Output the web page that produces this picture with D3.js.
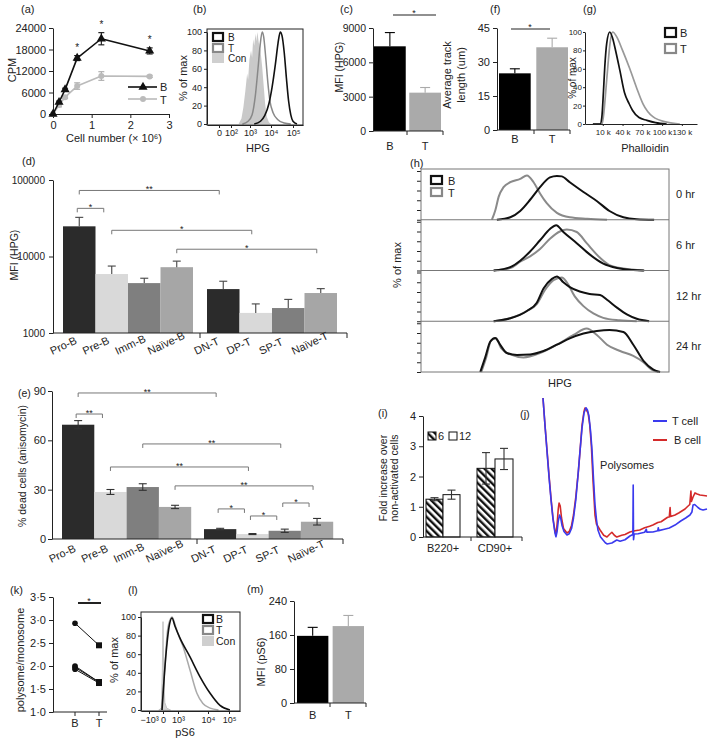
<!DOCTYPE html>
<html><head><meta charset="utf-8">
<script src="https://cdn.jsdelivr.net/npm/d3@7/dist/d3.min.js"></script>
<style>html,body{margin:0;padding:0;background:#fff}svg{display:block}</style>
</head><body>
<svg id="fig" width="709" height="739"></svg>
<script>
// ================= DATA =================
// (a)
const aCells=[0,0.156,0.3125,0.625,1.25,2.5];
const aB=[0,3300,6800,15600,21000,17600];
const aBerr=[0,300,400,700,1700,850];
const aT=[0,2500,4700,7800,10600,10500];
const aTerr=[0,500,400,900,1200,300];
const aStarAt=[3,4,5];
const aXTicks=[0,1,2,3];
const aYTicks=[0,6000,12000,18000,24000];
// (b)  x in log10 units (1 = "0")
const bTickVals=[1,2,3,4,5];
const bTickLabels=["0","10²","10³","10⁴","10⁵"];
const pctTicks=[0,20,40,60,80,100];
const bCon=[[2.4,0],[2.55,6],[2.65,18],[2.75,35],[2.85,55],[2.9,48],[2.97,70],[3.05,80],[3.1,72],[3.15,92],[3.2,85],[3.26,98],[3.3,90],[3.35,100],[3.42,88],[3.5,80],[3.58,62],[3.65,42],[3.72,22],[3.8,8],[3.9,2],[4.0,0]];
const bT=[[2.6,0],[2.9,3],[3.1,10],[3.25,30],[3.38,60],[3.48,85],[3.58,100],[3.65,95],[3.75,72],[3.85,45],[3.95,25],[4.1,12],[4.3,5],[4.6,1],[4.9,0]];
const bB=[[3.2,0],[3.5,3],[3.7,9],[3.9,22],[4.05,40],[4.2,65],[4.32,88],[4.42,100],[4.5,96],[4.6,78],[4.7,50],[4.8,25],[4.9,10],[5.0,3],[5.2,0]];
// (c)
const cCats=["B","T"];
const cVals=[7400,3350];
const cErr=[1200,450];
const cYTicks=[0,3000,6000,9000];
// (f)
const fVals=[25,36.5];
const fErr=[2,4];
const fYTicks=[0,15,30,45];
// (g)  x in thousands
const gXTicks=[10,40,70,100,130];
const gB=[[-5,0],[6,0],[8.5,7],[11,35],[13,62],[16,88],[20.6,100],[25,93],[30,78],[36,58],[43,34],[50,22],[55,15],[65,7],[77,4],[90,1.5],[107,0]];
const gT=[[-5,0],[9,0],[12,15],[15,40],[17.6,62],[21,88],[25,100],[31,95],[40,80],[51,60],[61,40],[71,22],[86,8],[107,2],[127,0]];
// (d) / (e)
const stages=["Pro-B","Pre-B","Imm-B","Naïve-B","DN-T","DP-T","SP-T","Naïve-T"];
const stageFill=["#2b2b2b","#d9d9d9","#7f7f7f","#a6a6a6","#2b2b2b","#d9d9d9","#7f7f7f","#a6a6a6"];
const dVals=[24800,5900,4490,7250,3750,1830,2120,3330];
const dErr=[7700,1600,710,1450,1000,570,630,470];
const dYTicks=[1000,10000,100000];
const dBrackets=[["Pro-B","DN-T","**",73000],["Pro-B","Pre-B","*",42600],["Pre-B","DP-T","*",22000],["Naïve-B","Naïve-T","*",12450]];
const eVals=[69.5,28.6,31.6,19.5,6,3,5,10.5];
const eErr=[2.5,1.5,2,1,0.5,0.3,1,2];
const eYTicks=[0,30,60,90];
const eBrackets=[["Pro-B","DN-T","**",88.8],["Pro-B","Pre-B","**",76],["Imm-B","SP-T","**",57.8],["Pre-B","DP-T","**",43.8],["Naïve-B","Naïve-T","**",32.3],["DN-T","DP-T","*",18.3],["DP-T","SP-T","*",14],["SP-T","Naïve-T","*",21.9]];
// (h)  x in % of HPG axis width, y in % of max
const hTimes=["0 hr","6 hr","12 hr","24 hr"];
const h0B=[[30.6,0],[36,5],[40,18],[44,41],[48,67],[52,87],[54.8,90],[56.8,89],[60,77],[65.5,57],[71,38],[76,18],[81.6,5],[87,1],[94,0]];
const h0T=[[28.6,0],[30,20],[31.3,47],[33.3,67],[36,77],[40,84],[42.7,91],[45.4,77],[48,54],[50.7,34],[54.8,14],[60,5],[67,2],[75,0]];
const h6B=[[29.3,0],[36,7],[40,20],[44,39],[48,62],[52,85],[54.5,93],[57.4,79],[62.8,56],[68,33],[73.5,14],[79,5],[85.6,1],[90,0]];
const h6T=[[29.3,0],[36,5],[40,18],[44,29],[48,44],[52,65],[56,80],[58.8,84],[62.8,79],[66.8,56],[72.2,26],[76,11],[81.6,4],[89.7,0]];
const h12B=[[29.3,0],[36,6],[42.7,21],[46.7,38],[49.4,67],[52.8,87],[54.8,92],[57.4,80],[60,70],[64,61],[68,56],[72.2,54],[75,44],[79,28],[83,14],[87,5],[92,0]];
const h12T=[[29.3,0],[36,6],[42.7,21],[46.7,35],[50,64],[53.4,84],[56.8,90],[58.8,80],[62,51],[65.5,31],[69.5,16],[73.5,7],[80,2],[87,0]];
const h24B=[[23.9,0],[25.9,30],[27.9,62],[29.9,70],[31.9,56],[34.6,39],[38.7,35],[44,36],[49.4,43],[54.8,56],[60,69],[65.5,79],[70.9,84],[76,86],[81.6,82],[85.6,56],[89.7,23],[93.7,5],[96.4,0]];
const h24T=[[24.3,0],[26.3,30],[28.2,64],[30.3,69],[32.3,49],[36,36],[41.3,30],[48,39],[54.8,56],[61.5,76],[66.8,89],[70.9,76],[75,56],[80.3,43],[85.6,33],[89.7,20],[93,5],[95.7,0]];
const hB=[h0B,h6B,h12B,h24B];
const hT=[h0T,h6T,h12T,h24T];
// (i)
const iGroups=["B220+","CD90+"];
const i6=[1.25,2.27], i6Err=[0.05,0.52];
const i12=[1.4,2.58], i12Err=[0.15,0.35];
const iYTicks=[0,1,2,3,4];
// (j)  x: sedimentation position (0-100), y: absorbance (a.u.)
const jT=[[0,100],[1.2,82],[2.4,65],[3.7,47],[4.9,32],[6.1,19],[7.3,10],[7.9,7.5],[8.6,11],[9.3,18],[10.1,22],[10.8,20],[11.6,15],[12.8,11],[14.6,8.7],[16,9.5],[17.4,13],[18.6,20],[20,32],[21.3,48],[22.6,65],[23.8,80],[25,90],[26.2,93.5],[27.1,92],[28,88],[29,78],[29.9,65],[30.8,46],[31.7,29],[32.6,19],[33.5,12],[35,7.5],[36.6,5.3],[38,3.5],[39,2.7],[42,3.3],[45,5.3],[47,4.5],[50,5.5],[53,8],[54.8,9],[55,42],[55.2,5.5],[55.6,9.3],[58,9.5],[62,10.5],[63,12.5],[63.3,10.6],[67,10.7],[70,11.5],[70.3,13.5],[70.6,11.6],[74,12.5],[77,13.3],[80.5,15.3],[84,18],[87,20],[89.6,22],[90.8,24],[91.5,28.7],[92.5,29],[94.5,27],[96,25.8],[97.6,25.3],[100,26]];
const jB=[[0,100],[1.2,82],[2.4,66],[3.7,48],[4.9,33],[6.1,20],[7.3,11],[7.9,9],[8.6,16],[9.3,26],[9.8,30],[10.5,28],[11.3,20],[12.5,13],[14.6,10],[16,11],[17.4,15],[18.6,22],[20,34],[21,45],[21.2,47],[21.5,50],[22.6,65],[23.8,82],[25,91],[25.6,93.3],[26.5,92],[27.5,90],[28.5,82],[29.5,68],[30.5,45],[31.7,22],[32.6,16],[34.8,12],[37,8.5],[39,7.3],[40.5,9],[42,10.5],[43.5,8.5],[45,7.3],[48,8.5],[50,9],[53,10.7],[56,11.5],[59,12],[62,13.5],[65,14.5],[67,15.3],[70,17],[72,17.5],[74,19],[76,20.5],[77,20.7],[77.5,27],[77.8,21],[80.5,22],[83,23.5],[86.6,26],[88,27.5],[89.5,29],[90.2,38],[90.5,31],[91.5,34],[92.7,36.7],[94,36],[95.7,35.3],[98,35],[100,34.7]];
// (k)
const kB=[2.93,2.0,1.97,1.93];
const kT=[2.45,1.65,1.65,1.63];
const kYTicks=[1,1.5,2,2.5,3,3.5];
// (l) x in display units: -1=-10^3, 0=0, 1=10^3, 2=10^4, 3=10^5
const lTickVals=[-1,0,1,2,3];
const lTickLabels=["−10³","0","10³","10⁴","10⁵"];
const lCon=[[-0.3,0],[-0.12,2],[-0.05,40],[0,95],[0.05,40],[0.12,8],[0.25,2],[0.5,0]];
const lT=[[-0.1,0],[0.1,40],[0.3,85],[0.5,98],[0.6,100],[0.8,92],[1.0,82],[1.17,68],[1.4,43],[1.63,18],[1.83,7],[2.1,2],[2.5,0]];
const lB=[[-0.07,0],[0.1,40],[0.27,72],[0.4,89],[0.6,99],[0.8,90],[1.07,77],[1.4,57],[1.73,36],[2.1,18],[2.57,5],[3.05,0]];
// (m)
const mVals=[158,181];
const mErr=[20,25];
const mYTicks=[0,80,160,240];

// ================= HELPERS =================
const svg=d3.select("#fig");
const FONT="'Liberation Sans', Arial, Helvetica, sans-serif";
const INK="#222";
function T(x,y,s,o={}){
  const t=svg.append("text").attr("x",x).attr("y",y).attr("font-family",FONT)
    .attr("font-size",o.fs||11).attr("fill",o.fill||INK).attr("text-anchor",o.anchor||"start").text(s);
  if(o.rot!=null) t.attr("transform",`rotate(${o.rot},${x},${y})`);
  return t;
}
function L(x1,y1,x2,y2,o={}){return svg.append("line").attr("x1",x1).attr("y1",y1).attr("x2",x2).attr("y2",y2).attr("stroke",o.stroke||INK).attr("stroke-width",o.w||1);}
function fixAxis(g,fs){g.attr("font-family",FONT).attr("font-size",fs);g.select(".domain").attr("stroke",INK);g.selectAll(".tick line").attr("stroke",INK);g.selectAll(".tick text").attr("fill",INK);return g;}
function axL(scale,x,vals,fmt,fs,size,pad){return fixAxis(svg.append("g").attr("transform",`translate(${x},0)`).call(d3.axisLeft(scale).tickValues(vals).tickFormat(fmt).tickSize(size==null?4:size).tickSizeOuter(0).tickPadding(pad==null?3:pad)),fs);}
function axB(scale,y,vals,fmt,fs,size,pad){return fixAxis(svg.append("g").attr("transform",`translate(0,${y})`).call(d3.axisBottom(scale).tickValues(vals).tickFormat(fmt).tickSize(size==null?4:size).tickSizeOuter(0).tickPadding(pad==null?3:pad)),fs);}
function P(d,stroke,w,fill){return svg.append("path").attr("d",d).attr("fill",fill||"none").attr("stroke",stroke).attr("stroke-width",w).attr("stroke-linejoin","round");}
function pl(sx,sy,curve){return d3.line().x(d=>sx(d[0])).y(d=>sy(d[1])).curve(curve||d3.curveMonotoneX);}
function errUp(x,y0,y1,cap,col){L(x,y0,x,y1,{stroke:col||INK,w:1.1});L(x-cap/2,y1,x+cap/2,y1,{stroke:col||INK,w:1.1});}
function errBoth(x,ylo,yhi,cap,col){L(x,ylo,x,yhi,{stroke:col||INK,w:1.1});L(x-cap/2,yhi,x+cap/2,yhi,{stroke:col||INK,w:1.1});L(x-cap/2,ylo,x+cap/2,ylo,{stroke:col||INK,w:1.1});}
function star(x,yc,s,fs){T(x,yc+(fs||10)*0.55,s,{fs:fs||10,anchor:"middle",fill:"#222"});}
function legBox(x,y,w,h,kind){
  const r=svg.append("rect").attr("x",x).attr("y",y).attr("width",w).attr("height",h);
  if(kind==="B") r.attr("fill","none").attr("stroke","#111").attr("stroke-width",2.2);
  else if(kind==="T") r.attr("fill","none").attr("stroke","#888").attr("stroke-width",2.2);
  else r.attr("fill","#cfcfcf").attr("stroke","none");
}
const defs=svg.append("defs");
const pat=defs.append("pattern").attr("id","hatch").attr("patternUnits","userSpaceOnUse").attr("width",5).attr("height",5).attr("patternTransform","rotate(-45)");
pat.append("rect").attr("width",5).attr("height",5).attr("fill","#fff");
pat.append("rect").attr("width",2.4).attr("height",5).attr("fill","#111");

// ================= (a) =================
T(21,13,"(a)");
const xA=d3.scaleLinear().domain([0,3]).range([53,169]);
const yA=d3.scaleLinear().domain([0,24000]).range([114,28]);
axB(xA,114,aXTicks,d3.format("d"),11);
axL(yA,53,aYTicks,d=>d,11);
T(114,142,"Cell number (× 10⁶)",{anchor:"middle"});
T(16,70,"CPM",{rot:-90,anchor:"middle"});
P(d3.line().x((d,i)=>xA(aCells[i])).y(d=>yA(d))(aT),"#bbb",1.6);
aCells.forEach((c,i)=>{ if(aTerr[i]>0) errBoth(xA(c),yA(aT[i]-aTerr[i]),yA(aT[i]+aTerr[i]),6,"#aaa"); });
svg.selectAll(".aT").data(aT).enter().append("circle").attr("cx",(d,i)=>xA(aCells[i])).attr("cy",d=>yA(d)).attr("r",3).attr("fill","#bbb");
P(d3.line().x((d,i)=>xA(aCells[i])).y(d=>yA(d))(aB),"#111",1.6);
aCells.forEach((c,i)=>{ if(aBerr[i]>0) errBoth(xA(c),yA(aB[i]-aBerr[i]),yA(aB[i]+aBerr[i]),6,"#111"); });
svg.selectAll(".aB").data(aB).enter().append("path").attr("d",d3.symbol(d3.symbolTriangle,36)).attr("transform",(d,i)=>`translate(${xA(aCells[i])},${yA(d)})`).attr("fill","#111");
aStarAt.forEach(i=>star(xA(aCells[i]),yA(aB[i]+aBerr[i])-10,"*",10));
L(128,87,157,87,{stroke:"#111",w:1.6});
svg.append("path").attr("d",d3.symbol(d3.symbolTriangle,36)).attr("transform","translate(143,87)").attr("fill","#111");
T(160,91,"B",{fs:11});
L(128,99,157,99,{stroke:"#bbb",w:1.6});
svg.append("circle").attr("cx",143).attr("cy",99).attr("r",3).attr("fill","#bbb");
T(160,104,"T",{fs:11});

// ================= (b) =================
T(193,13,"(b)");
const xBs=d3.scaleLinear().domain([0.3,1,2,3,4,5,5.5]).range([207,219,231,250,271,293,303]);
const yBs=d3.scaleLinear().domain([0,100]).range([124,32]);
P(d3.area().x(d=>xBs(d[0])).y0(yBs(0)).y1(d=>yBs(d[1])).curve(d3.curveLinear)(bCon),"none",0,"#c9c9c9");
P(pl(xBs,yBs)(bT),"#888",1.5);
P(pl(xBs,yBs)(bB),"#111",1.6);
svg.append("rect").attr("x",207).attr("y",29).attr("width",96).attr("height",96).attr("fill","none").attr("stroke",INK).attr("stroke-width",1);
axL(yBs,207,pctTicks,d=>d,9,3,2);
axB(xBs,125,bTickVals,(d,i)=>bTickLabels[i],9,3,2);
T(187,78,"% of max",{rot:-90,anchor:"middle",fs:11});
T(258,152,"HPG",{anchor:"middle",fs:11});
legBox(213,33,10,8,"B");T(228,41,"B",{fs:10});
legBox(213,44,10,8,"T");T(228,52,"T",{fs:10});
legBox(212,53,12,10,"C");T(228,62,"Con",{fs:10});

// ================= (c) =================
T(340,13,"(c)");
const yC=d3.scaleLinear().domain([0,9000]).range([131,28]);
const xC=d3.scaleBand().domain(cCats).range([374,441]).paddingInner(0.1);
cCats.forEach((c,i)=>{
  svg.append("rect").attr("x",xC(c)).attr("y",yC(cVals[i])).attr("width",xC.bandwidth()).attr("height",yC(0)-yC(cVals[i])).attr("fill",i?"#aaa":"#000");
  errUp(xC(c)+xC.bandwidth()/2,yC(cVals[i]),yC(cVals[i]+cErr[i]),10,i?"#aaa":"#000");
  T(xC(c)+xC.bandwidth()/2,150,c,{anchor:"middle"});
});
axL(yC,373,cYTicks,d=>d,10.5);
L(373,131,443,131);L(407,131,407,135);L(443,131,443,135);
L(393,15,436,15,{w:1.1});star(414,11,"*",9);
T(343,67,"MFI (HPG)",{rot:-90,anchor:"middle",fs:10.5});

// ================= (f) =================
T(490,13,"(f)");
const yF=d3.scaleLinear().domain([0,45]).range([130,28]);
const xF=d3.scaleBand().domain(cCats).range([499,568]).paddingInner(0.15);
cCats.forEach((c,i)=>{
  svg.append("rect").attr("x",xF(c)).attr("y",yF(fVals[i])).attr("width",xF.bandwidth()).attr("height",yF(0)-yF(fVals[i])).attr("fill",i?"#aaa":"#000");
  errUp(xF(c)+xF.bandwidth()/2,yF(fVals[i]),yF(fVals[i]+fErr[i]),10,i?"#aaa":"#000");
  T(xF(c)+xF.bandwidth()/2,143,c,{anchor:"middle"});
});
axL(yF,497,fYTicks,d=>d,11);
L(497,130,570,130);L(534,130,534,134);L(570,130,570,134);
L(511,29,550,29,{w:1.1});star(530,25,"*",9);
T(451,75,"Average track",{rot:-90,anchor:"middle"});
T(465,75,"length (um)",{rot:-90,anchor:"middle"});

// ================= (g) =================
T(583,13,"(g)");
const xG=d3.scaleLinear().domain([-17,153]).range([585,697]);
const yG=d3.scaleLinear().domain([0,100]).range([124,32]);
P(pl(xG,yG)(gT),"#999",1.7);
P(pl(xG,yG)(gB),"#111",1.7);
axL(yG,585,pctTicks,d=>d,8,2,1);
axB(xG,124,gXTicks,d=>d+" k",8,2,3);
T(576,78,"% of max",{rot:-90,anchor:"middle",fs:10});
T(645,152,"Phalloidin",{anchor:"middle",fs:11});
legBox(665,28,11,9,"B");T(680,37,"B");
legBox(665,44,11,9,"T");T(680,53,"T");

// ================= (d) & (e) helpers =================
function stageX(i,s0,s1,bw){return i<4? s0+i*bw : s1+(i-4)*bw;}
function bracketX(a,b,cx){const ia=stages.indexOf(a), ib=stages.indexOf(b); const adj=Math.abs(ib-ia)===1; return adj?[cx(ia)-2,cx(ib)-8]:[cx(ia),cx(ib)-4];}
function drawBracket(x1,x2,y,label){P(`M${x1},${y+4}V${y}H${x2}V${y+4}`,"#777",1);star((x1+x2)/2,y-3,label,9);}

// ================= (d) =================
T(22,165,"(d)");
const yD=d3.scaleLog().domain([1000,100000]).range([333,180]);
const dBw=32.5, dS0=63, dS1=207;
const dCx=i=>stageX(i,dS0,dS1,dBw)+dBw/2;
stages.forEach((s,i)=>{
  const x=stageX(i,dS0,dS1,dBw);
  svg.append("rect").attr("x",x).attr("y",yD(dVals[i])).attr("width",dBw).attr("height",yD(1000)-yD(dVals[i])).attr("fill",stageFill[i]);
  errUp(dCx(i),yD(dVals[i]),yD(dVals[i]+dErr[i]),8,"#444");
  T(dCx(i)-27,333+22,s,{rot:-25});
});
axL(yD,53,dYTicks,d3.format("d"),10,4,4);
L(53,333,347,333);L(200,333,200,338);L(347,333,347,338);
dBrackets.forEach(b=>{const [x1,x2]=bracketX(b[0],b[1],dCx);drawBracket(x1,x2,yD(b[3]),b[2]);});
T(18,255,"MFI (HPG)",{rot:-90,anchor:"middle",fs:10.5});

// ================= (e) =================
T(18,397,"(e)",{fs:10.5});
const yE=d3.scaleLinear().domain([0,90]).range([539,391]);
const eBw=32.3, eS0=62, eS1=204;
const eCx=i=>stageX(i,eS0,eS1,eBw)+eBw/2;
stages.forEach((s,i)=>{
  const x=stageX(i,eS0,eS1,eBw);
  svg.append("rect").attr("x",x).attr("y",yE(eVals[i])).attr("width",eBw).attr("height",yE(0)-yE(eVals[i])).attr("fill",stageFill[i]);
  errBoth(eCx(i),yE(eVals[i]-eErr[i]),yE(eVals[i]+eErr[i]),8,"#333");
  T(eCx(i)-27,539+24,s,{rot:-25});
});
axL(yE,52,eYTicks,d=>d,11,4,2);
L(52,539,343,539);L(197,539,197,544);L(343,539,343,544);
eBrackets.forEach(b=>{const [x1,x2]=bracketX(b[0],b[1],eCx);drawBracket(x1,x2,yE(b[3]),b[2]);});
T(26,466,"% dead cells (anisomycin)",{rot:-90,anchor:"middle",fs:10.5});

// ================= (h) =================
T(410,167,"(h)");
const xH=d3.scaleLinear().domain([0,100]).range([421,669]);
const hTop=169, hH=50.75;
hTimes.forEach((lab,k)=>{
  const y0=hTop+k*hH;
  const yH=d3.scaleLinear().domain([0,100]).range([y0+hH,y0+2]);
  P(pl(xH,yH)(hT[k]),"#8a8a8a",2);
  P(pl(xH,yH)(hB[k]),"#111",2);
  const g=axL(yH,421,[0,20,40,60,80,100],()=>"",8,4,0);
  g.select(".domain").remove();
  T(676,y0+29,lab,{anchor:"start"});
  if(k>0) L(421,y0,669,y0,{stroke:"#777"});
});
svg.append("rect").attr("x",421).attr("y",hTop).attr("width",248).attr("height",hH*4).attr("fill","none").attr("stroke","#777");
legBox(431,176,11,8,"B");T(448,185,"B");
legBox(431,188,11,8,"T");T(448,197,"T");
T(401,265,"% of max",{rot:-90,anchor:"middle"});
T(560,387,"HPG",{anchor:"middle"});

// ================= (i) =================
T(378,417,"(i)");
const yI=d3.scaleLinear().domain([0,4]).range([537,416]);
const iX6=[426,477], iX12=[443,495], iW=[17,18];
iGroups.forEach((g,k)=>{
  svg.append("rect").attr("x",iX6[k]).attr("y",yI(i6[k])).attr("width",iW[k]).attr("height",yI(0)-yI(i6[k])).attr("fill","url(#hatch)").attr("stroke","#111").attr("stroke-width",1);
  svg.append("rect").attr("x",iX12[k]).attr("y",yI(i12[k])).attr("width",iW[k]).attr("height",yI(0)-yI(i12[k])).attr("fill","#fff").attr("stroke","#111").attr("stroke-width",1);
  errBoth(iX6[k]+iW[k]/2,yI(i6[k]-i6Err[k]),yI(i6[k]+i6Err[k]),8,"#333");
  errBoth(iX12[k]+iW[k]/2,yI(i12[k]-i12Err[k]),yI(i12[k]+i12Err[k]),8,"#333");
  T(iX12[k],552,g,{anchor:"middle"});
});
axL(yI,423,iYTicks,d=>d,11);
L(423,537,522,537);L(471,537,471,541);L(522,537,522,541);
svg.append("rect").attr("x",428).attr("y",432).attr("width",8).attr("height",8).attr("fill","url(#hatch)").attr("stroke","#111");
T(438,440,"6");
svg.append("rect").attr("x",449).attr("y",432).attr("width",8).attr("height",8).attr("fill","#fff").attr("stroke","#111");
T(459,440,"12");
T(387,478,"Fold increase over",{rot:-90,anchor:"middle",fs:10.5});
T(398,478,"non-activated cells",{rot:-90,anchor:"middle",fs:10.5});

// ================= (j) =================
T(520,418,"(j)");
const xJ=d3.scaleLinear().domain([0,100]).range([543,707]);
const yJ=d3.scaleLinear().domain([0,100]).range([548,398]);
P(pl(xJ,yJ,d3.curveLinear)(jB),"#d42a2a",1.6);
P(pl(xJ,yJ,d3.curveLinear)(jT),"#3a3aee",1.6);
L(653,421,667,421,{stroke:"#3a3aee",w:2});T(672,425,"T cell",{fs:11});
L(653,440,667,440,{stroke:"#d42a2a",w:2});T(674,444,"B cell",{fs:11});
T(627,469,"Polysomes",{anchor:"middle",fs:11});

// ================= (k) =================
T(10,594,"(k)");
const yK=d3.scaleLinear().domain([1,3.5]).range([712,597]);
const xK=d3.scalePoint().domain(["B","T"]).range([75,99]);
axL(yK,53,kYTicks,d=>d3.format(".1f")(d).replace(".","·"),11);
L(53,712,107,712);L(75,712,75,716);L(99,712,99,716);
T(75,727,"B",{anchor:"middle"});T(99,727,"T",{anchor:"middle"});
kB.forEach((b,i)=>L(xK("B"),yK(b),xK("T"),yK(kT[i]),{stroke:"#111",w:1}));
kB.forEach(b=>svg.append("circle").attr("cx",xK("B")).attr("cy",yK(b)).attr("r",2.8).attr("fill","#111"));
kT.forEach(t=>svg.append("rect").attr("x",xK("T")-3).attr("y",yK(t)-3).attr("width",6).attr("height",6).attr("fill","#111"));
L(78,603,101,603,{w:2});star(89,599,"*",9);
T(24,660,"polysome/monosome",{rot:-90,anchor:"middle"});

// ================= (l) =================
T(128,594,"(l)");
const xL=d3.scaleLinear().domain([-1.5,-1,0,1,2,3,3.6]).range([141,149,163,178,208,229,240]);
const yL=d3.scaleLinear().domain([0,100]).range([710,617]);
P(d3.area().x(d=>xL(d[0])).y0(yL(0)).y1(d=>yL(d[1])).curve(d3.curveLinear)(lCon),"#c4c4c4",1,"#d4d4d4");
P(pl(xL,yL)(lT),"#aaa",1.5);
P(pl(xL,yL)(lB),"#111",1.6);
svg.append("rect").attr("x",141).attr("y",612).attr("width",99).attr("height",99).attr("fill","none").attr("stroke",INK);
axL(yL,141,pctTicks,d=>d,9,3,2);
axB(xL,711,lTickVals,(d,i)=>lTickLabels[i],9,3,3);
T(118,660,"% of max",{rot:-90,anchor:"middle"});
T(185,736,"pS6",{anchor:"middle"});
legBox(203,615,10,8,"B");T(216,623,"B",{fs:10.5});
legBox(203,626,10,8,"T");T(216,634,"T",{fs:10.5});
legBox(202,636,12,10,"C");T(216,645,"Con",{fs:10.5});

// ================= (m) =================
T(247,593,"(m)");
const yM=d3.scaleLinear().domain([0,240]).range([703,601]);
const xM=d3.scaleBand().domain(cCats).range([297,364]).paddingInner(0.12);
cCats.forEach((c,i)=>{
  svg.append("rect").attr("x",xM(c)).attr("y",yM(mVals[i])).attr("width",xM.bandwidth()).attr("height",yM(0)-yM(mVals[i])).attr("fill",i?"#aaa":"#000");
  errUp(xM(c)+xM.bandwidth()/2,yM(mVals[i]),yM(mVals[i]+mErr[i]),10,i?"#aaa":"#000");
  T(xM(c)+xM.bandwidth()/2,719,c,{anchor:"middle"});
});
axL(yM,294,mYTicks,d=>d,11);
L(294,703,366,703);L(330,703,330,707);L(366,703,366,707);
T(265,662,"MFI (pS6)",{rot:-90,anchor:"middle"});
</script>
</body></html>
